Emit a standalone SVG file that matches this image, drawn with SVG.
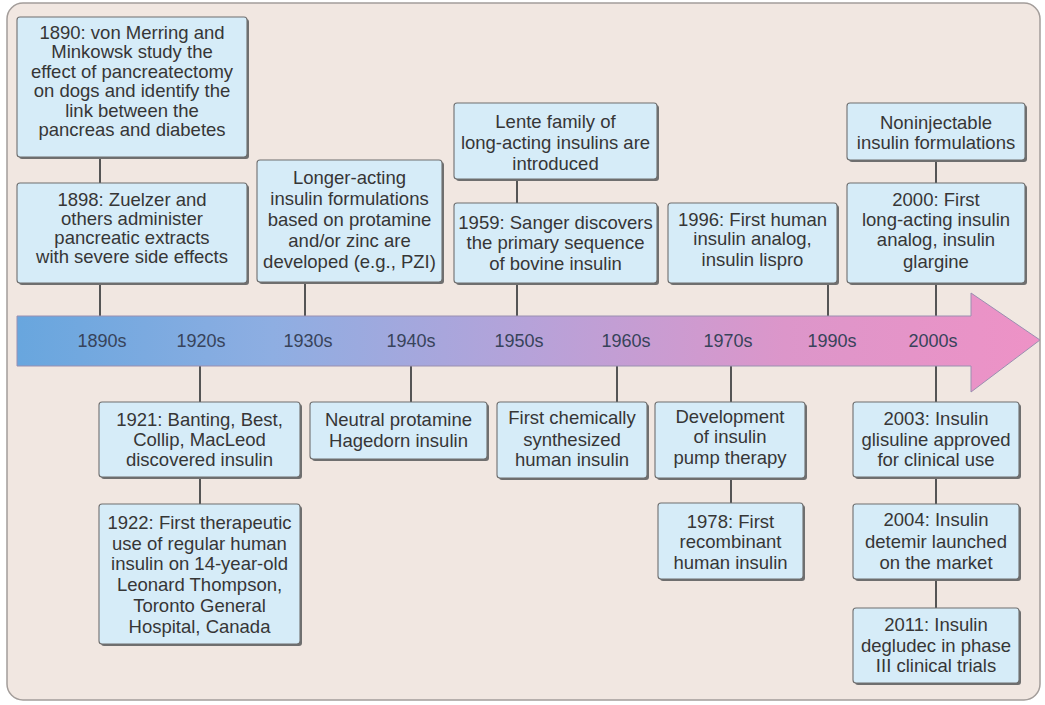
<svg xmlns="http://www.w3.org/2000/svg" width="1045" height="705" viewBox="0 0 1045 705">
<defs>
<linearGradient id="arrowGrad" x1="17" y1="0" x2="1040" y2="0" gradientUnits="userSpaceOnUse">
<stop offset="0" stop-color="#68a6de"/>
<stop offset="0.25" stop-color="#8eaee2"/>
<stop offset="0.5" stop-color="#b6a2d9"/>
<stop offset="0.75" stop-color="#dc96ca"/>
<stop offset="1" stop-color="#ee92c6"/>
</linearGradient>
<style>
.bg{fill:#f1e7e1;stroke:#a39d9a;stroke-width:1.5}
.shadow{fill:#6f6f6f}
.box{fill:#d6ecf8;stroke:#6f6f6f;stroke-width:1.1}
.t{font-family:"Liberation Sans",Arial,sans-serif;font-size:18.5px;fill:#363636;text-anchor:middle}
.yr{font-family:"Liberation Sans",Arial,sans-serif;font-size:18px;fill:#37435a;text-anchor:middle}
.conn line{stroke:#555;stroke-width:2}
</style>
</defs>
<rect class="bg" x="7" y="3" width="1033" height="697" rx="16"/>

<g id="connectors" class="conn">
<line x1="100" y1="157" x2="100" y2="183"/>
<line x1="100" y1="283" x2="100" y2="317"/>
<line x1="305" y1="282" x2="305" y2="317"/>
<line x1="517" y1="179" x2="517" y2="203"/>
<line x1="517" y1="283" x2="517" y2="317"/>
<line x1="828" y1="283" x2="828" y2="317"/>
<line x1="936" y1="160" x2="936" y2="183"/>
<line x1="936" y1="283" x2="936" y2="317"/>
<line x1="200" y1="365" x2="200" y2="402"/>
<line x1="200" y1="477" x2="200" y2="504"/>
<line x1="411" y1="365" x2="411" y2="402"/>
<line x1="617" y1="365" x2="617" y2="402"/>
<line x1="731" y1="365" x2="731" y2="402"/>
<line x1="731" y1="478" x2="731" y2="503"/>
<line x1="936" y1="365" x2="936" y2="402"/>
<line x1="936" y1="477" x2="936" y2="504"/>
<line x1="936" y1="579" x2="936" y2="608"/>
</g>

<g id="timeline">
<path d="M17,316 L971,316 L971,293 L1040,340 L971,392 L971,366 L17,366 Z" fill="url(#arrowGrad)" stroke="#9a8fb0" stroke-width="1"/>
<text class="yr" x="102" y="347">1890s</text>
<text class="yr" x="201" y="347">1920s</text>
<text class="yr" x="308" y="347">1930s</text>
<text class="yr" x="411" y="347">1940s</text>
<text class="yr" x="519" y="347">1950s</text>
<text class="yr" x="626" y="347">1960s</text>
<text class="yr" x="728" y="347">1970s</text>
<text class="yr" x="832" y="347">1990s</text>
<text class="yr" x="933" y="347">2000s</text>
</g>

<g id="n1890">
<rect class="shadow" x="19" y="19" width="230" height="140" rx="3"/>
<rect class="box" x="17" y="17" width="230" height="140" rx="3"/>
<text class="t" x="132"><tspan x="132" y="38.5">1890: von Merring and</tspan><tspan x="132" y="58">Minkowsk study the</tspan><tspan x="132" y="77.5">effect of pancreatectomy</tspan><tspan x="132" y="97">on dogs and identify the</tspan><tspan x="132" y="116.5">link between the</tspan><tspan x="132" y="136">pancreas and diabetes</tspan></text>
</g>

<g id="n1898">
<rect class="shadow" x="19" y="185" width="230" height="100" rx="3"/>
<rect class="box" x="17" y="183" width="230" height="100" rx="3"/>
<text class="t" x="132"><tspan x="132" y="206">1898: Zuelzer and</tspan><tspan x="132" y="225">others administer</tspan><tspan x="132" y="244">pancreatic extracts</tspan><tspan x="132" y="263">with severe side effects</tspan></text>
</g>

<g id="nLonger">
<rect class="shadow" x="259" y="162" width="185" height="122" rx="3"/>
<rect class="box" x="257" y="160" width="185" height="122" rx="3"/>
<text class="t" x="349.5"><tspan x="349.5" y="184">Longer-acting</tspan><tspan x="349.5" y="205">insulin formulations</tspan><tspan x="349.5" y="226">based on protamine</tspan><tspan x="349.5" y="247">and/or zinc are</tspan><tspan x="349.5" y="268">developed (e.g., PZI)</tspan></text>
</g>

<g id="nLente">
<rect class="shadow" x="456" y="105" width="203" height="76" rx="3"/>
<rect class="box" x="454" y="103" width="203" height="76" rx="3"/>
<text class="t" x="555.5"><tspan x="555.5" y="128">Lente family of</tspan><tspan x="555.5" y="149">long-acting insulins are</tspan><tspan x="555.5" y="170">introduced</tspan></text>
</g>

<g id="n1959">
<rect class="shadow" x="456" y="205" width="203" height="80" rx="3"/>
<rect class="box" x="454" y="203" width="203" height="80" rx="3"/>
<text class="t" x="555.5"><tspan x="555.5" y="229">1959: Sanger discovers</tspan><tspan x="555.5" y="249">the primary sequence</tspan><tspan x="555.5" y="270">of bovine insulin</tspan></text>
</g>

<g id="n1996">
<rect class="shadow" x="670" y="205" width="169" height="80" rx="3"/>
<rect class="box" x="668" y="203" width="169" height="80" rx="3"/>
<text class="t" x="752.5"><tspan x="752.5" y="226">1996: First human</tspan><tspan x="752.5" y="245">insulin analog,</tspan><tspan x="752.5" y="266">insulin lispro</tspan></text>
</g>

<g id="nNoninj">
<rect class="shadow" x="849" y="105" width="178" height="57" rx="3"/>
<rect class="box" x="847" y="103" width="178" height="57" rx="3"/>
<text class="t" x="936"><tspan x="936" y="129">Noninjectable</tspan><tspan x="936" y="149">insulin formulations</tspan></text>
</g>

<g id="n2000">
<rect class="shadow" x="849" y="185" width="178" height="100" rx="3"/>
<rect class="box" x="847" y="183" width="178" height="100" rx="3"/>
<text class="t" x="936"><tspan x="936" y="206">2000: First</tspan><tspan x="936" y="226">long-acting insulin</tspan><tspan x="936" y="246">analog, insulin</tspan><tspan x="936" y="268">glargine</tspan></text>
</g>

<g id="n1921">
<rect class="shadow" x="101" y="404" width="201" height="75" rx="3"/>
<rect class="box" x="99" y="402" width="201" height="75" rx="3"/>
<text class="t" x="199.5"><tspan x="199.5" y="426">1921: Banting, Best,</tspan><tspan x="199.5" y="446">Collip, MacLeod</tspan><tspan x="199.5" y="466">discovered insulin</tspan></text>
</g>

<g id="n1922">
<rect class="shadow" x="101" y="506" width="201" height="140" rx="3"/>
<rect class="box" x="99" y="504" width="201" height="140" rx="3"/>
<text class="t" x="199.5"><tspan x="199.5" y="529">1922: First therapeutic</tspan><tspan x="199.5" y="549.5">use of regular human</tspan><tspan x="199.5" y="570">insulin on 14-year-old</tspan><tspan x="199.5" y="591">Leonard Thompson,</tspan><tspan x="199.5" y="612">Toronto General</tspan><tspan x="199.5" y="633">Hospital, Canada</tspan></text>
</g>

<g id="nNPH">
<rect class="shadow" x="312" y="404" width="177" height="57" rx="3"/>
<rect class="box" x="310" y="402" width="177" height="57" rx="3"/>
<text class="t" x="398.5"><tspan x="398.5" y="426">Neutral protamine</tspan><tspan x="398.5" y="447">Hagedorn insulin</tspan></text>
</g>

<g id="nChem">
<rect class="shadow" x="499" y="404" width="150" height="76" rx="3"/>
<rect class="box" x="497" y="402" width="150" height="76" rx="3"/>
<text class="t" x="572"><tspan x="572" y="424">First chemically</tspan><tspan x="572" y="446">synthesized</tspan><tspan x="572" y="466">human insulin</tspan></text>
</g>

<g id="nPump">
<rect class="shadow" x="657" y="404" width="150" height="76" rx="3"/>
<rect class="box" x="655" y="402" width="150" height="76" rx="3"/>
<text class="t" x="730"><tspan x="730" y="423">Development</tspan><tspan x="730" y="443">of insulin</tspan><tspan x="730" y="464">pump therapy</tspan></text>
</g>

<g id="n1978">
<rect class="shadow" x="660" y="505" width="145" height="76" rx="3"/>
<rect class="box" x="658" y="503" width="145" height="76" rx="3"/>
<text class="t" x="730.5"><tspan x="730.5" y="528">1978: First</tspan><tspan x="730.5" y="548">recombinant</tspan><tspan x="730.5" y="569">human insulin</tspan></text>
</g>

<g id="n2003">
<rect class="shadow" x="855" y="404" width="166" height="75" rx="3"/>
<rect class="box" x="853" y="402" width="166" height="75" rx="3"/>
<text class="t" x="936"><tspan x="936" y="425">2003: Insulin</tspan><tspan x="936" y="446">glisuline approved</tspan><tspan x="936" y="466">for clinical use</tspan></text>
</g>

<g id="n2004">
<rect class="shadow" x="855" y="506" width="166" height="75" rx="3"/>
<rect class="box" x="853" y="504" width="166" height="75" rx="3"/>
<text class="t" x="936"><tspan x="936" y="526">2004: Insulin</tspan><tspan x="936" y="548">detemir launched</tspan><tspan x="936" y="569">on the market</tspan></text>
</g>

<g id="n2011">
<rect class="shadow" x="855" y="610" width="166" height="75" rx="3"/>
<rect class="box" x="853" y="608" width="166" height="75" rx="3"/>
<text class="t" x="936"><tspan x="936" y="631">2011: Insulin</tspan><tspan x="936" y="652">degludec in phase</tspan><tspan x="936" y="672">III clinical trials</tspan></text>
</g>
</svg>
